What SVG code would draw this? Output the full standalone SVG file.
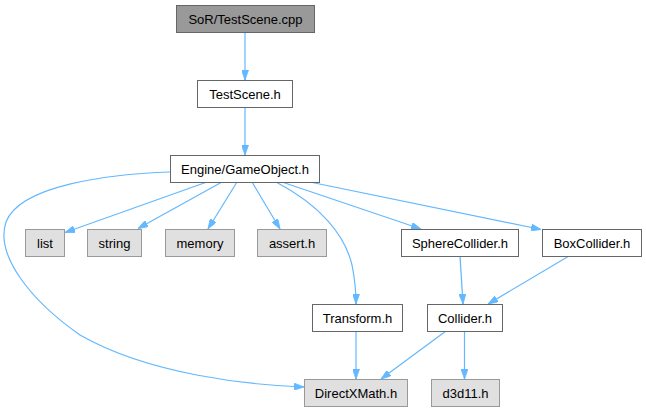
<svg xmlns="http://www.w3.org/2000/svg" width="646" height="411" viewBox="0 0 646 411">
<style>
.n rect{stroke-width:1}
.root rect{fill:#999999;stroke:#666666}
.int rect{fill:#ffffff;stroke:#666666}
.ext rect{fill:#e0e0e0;stroke:#999999}
text{font-family:"Liberation Sans",Arial,sans-serif;font-size:13px;fill:#000000;text-anchor:middle}
.e path{fill:none;stroke:#63b8ff;stroke-width:1.2;marker-end:url(#ah)}
</style>
<defs>
<marker id="ah" viewBox="0 0 10 7" refX="10" refY="3.5" markerWidth="10" markerHeight="7" markerUnits="userSpaceOnUse" orient="auto">
<path d="M0,0 L10,3.5 L0,7 z" fill="#63b8ff" stroke="#63b8ff" stroke-width="0.8"/>
</marker>
</defs>
<rect width="646" height="411" fill="#ffffff"/>
<g id="edges" class="e">
<path d="M245,32 L245,80"/>
<path d="M245,107 L245,155"/>
<path d="M207,182 L65,232.5"/>
<path d="M222,182 L138,228.5"/>
<path d="M237,182 L208,229"/>
<path d="M252,182 L280,229"/>
<path d="M276,182 C320,205 345,235 352,265 C355,280 356,292 356,304"/>
<path d="M282,182 L421,229"/>
<path d="M305,181 L541,229.5"/>
<path d="M170,172 C110,174 20,185 6,222 C-5,255 30,300 80,335 C150,375 250,385 304,387"/>
<path d="M460,256 L463,304"/>
<path d="M569,256 L488,304"/>
<path d="M356,331 L356,379"/>
<path d="M446,331 L381,379"/>
<path d="M464.5,331 L464.5,379"/>
</g>
<g id="node_cpp" class="n root"><rect x="176.5" y="5.5" width="138" height="27"/><text x="245.5" y="23.5">SoR/TestScene.cpp</text></g>
<g id="node_testscene" class="n int"><rect x="197.5" y="80.5" width="95" height="27"/><text x="245" y="98.5">TestScene.h</text></g>
<g id="node_gameobject" class="n int"><rect x="170.5" y="155.5" width="149" height="27"/><text x="245" y="173.5">Engine/GameObject.h</text></g>
<g id="node_list" class="n ext"><rect x="25.5" y="229.5" width="39" height="27"/><text x="45" y="247.5">list</text></g>
<g id="node_string" class="n ext"><rect x="87.5" y="229.5" width="54" height="27"/><text x="114.5" y="247.5">string</text></g>
<g id="node_memory" class="n ext"><rect x="165.5" y="229.5" width="69" height="27"/><text x="200" y="247.5">memory</text></g>
<g id="node_assert" class="n ext"><rect x="257.5" y="229.5" width="69" height="27"/><text x="292" y="247.5">assert.h</text></g>
<g id="node_sphere" class="n int"><rect x="401.5" y="229.5" width="117" height="27"/><text x="460" y="247.5">SphereCollider.h</text></g>
<g id="node_box" class="n int"><rect x="542.5" y="229.5" width="99" height="27"/><text x="592" y="247.5">BoxCollider.h</text></g>
<g id="node_transform" class="n int"><rect x="312.5" y="304.5" width="90" height="27"/><text x="357.5" y="322.5">Transform.h</text></g>
<g id="node_collider" class="n int"><rect x="427.5" y="304.5" width="75" height="27"/><text x="465" y="322.5">Collider.h</text></g>
<g id="node_dxmath" class="n ext"><rect x="304.5" y="379.5" width="103" height="27"/><text x="356" y="397.5">DirectXMath.h</text></g>
<g id="node_d3d11" class="n ext"><rect x="431.5" y="379.5" width="68" height="27"/><text x="465.5" y="397.5">d3d11.h</text></g>
</svg>
